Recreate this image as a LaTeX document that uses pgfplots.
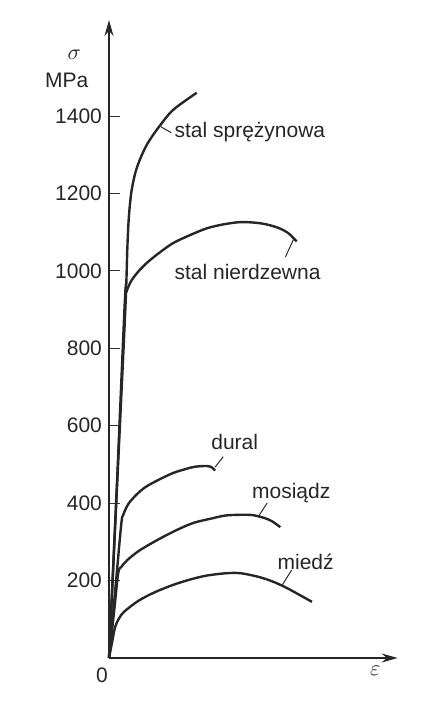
\documentclass[border=0pt]{standalone}
\usepackage{fontspec}
\setmainfont{Liberation Sans}
\usepackage{pgfplots}
\pgfplotsset{compat=1.18}
\usetikzlibrary{arrows.meta}
\tikzset{curve/.style={black!85, line width=1.2pt, smooth, tension=0.5, mark=none}}
\begin{document}
\begin{tikzpicture}
\path[use as bounding box] (-54.5pt,-25.5pt) rectangle (169.5pt,329pt);
\begin{axis}[
  scale only axis, width=141.5pt, height=319pt,
  xmin=0, xmax=283, ymin=0, ymax=1648,
  axis lines=left,
  axis line style={line width=0.75pt, black!85, -{Stealth[length=8pt,width=4.5pt]}},
  xtick=\empty,
  ytick={200,400,...,1400},
  tick align=inside, major tick length=5.5pt,
  tick style={line width=0.5pt, black!80},
  font=\fontsize{10.5}{12}\selectfont,
  yticklabel style={font=\fontsize{10.5}{12}\selectfont, text=black!85},
  /pgf/number format/assume math mode=true,
  /pgf/number format/1000 sep={},
  clip=false,
]
% stal sprezynowa
\addplot[curve] coordinates {(0,0) (8,450) (16,900) (18,1060) (19.5,1140) (22,1205) (26,1255) (31,1292) (38,1330) (49,1372) (63,1416) (86,1460)};
% stal nierdzewna
\addplot[curve] coordinates {(0,0) (8,463) (15.5,920) (17,945) (22,975) (30,1002) (39,1025) (50,1048) (63,1072) (80,1093) (96,1110) (112,1120) (129,1126) (145,1124) (156,1119) (167,1110) (176,1097) (184,1076)};
% dural
\addplot[curve] coordinates {(0,0) (6,172) (12,345) (14,370) (19,398) (27,422) (36,442) (50,462) (63,478) (75,488) (84,494) (96,496) (101,492) (104,484)};
% mosiadz
\addplot[curve] coordinates {(0,0) (5,120) (9,219) (12,235) (18,253) (30,278) (51,310) (70,335) (84,350) (100,360) (114,368) (130,370) (141,369) (152,362) (160,353) (168,338)};
% miedz
\addplot[curve] coordinates {(0,0) (3,40) (6,80) (10,103) (15,120) (29,148) (45,170) (63,189) (80,203) (96,213) (115,219) (129,219) (146,210) (160,198) (175,180) (199,145)};

\draw[line width=0.5pt, black!85] (axis cs:51,1372) -- (axis cs:61,1357);
\node[anchor=west, inner sep=1pt, text=black!85] at (axis cs:62,1359) {stal sprężynowa};
\draw[line width=0.5pt, black!85] (axis cs:181,1082) -- (axis cs:173,1036);
\node[anchor=west, inner sep=1pt, text=black!85] at (axis cs:62,998) {stal nierdzewna};
\draw[line width=0.5pt, black!85] (axis cs:104,493) -- (axis cs:112,520);
\node[anchor=west, inner sep=1pt, text=black!85] at (axis cs:98,558) {dural};
\draw[line width=0.5pt, black!85] (axis cs:146,364) -- (axis cs:155,400);
\node[anchor=west, inner sep=1pt, text=black!85] at (axis cs:138,427) {mosiądz};
\draw[line width=0.5pt, black!85] (axis cs:170,189) -- (axis cs:179,227);
\node[anchor=west, inner sep=1pt, text=black!85] at (axis cs:163,248) {miedź};

\node[text=black!85] at (axis cs:-34,1557) {\fontsize{11}{12}\selectfont$\sigma$};
\node[anchor=east, inner sep=0pt, text=black!85] at (axis cs:-20,1493) {MPa};
\node[text=black!85] at (axis cs:-7,-44) {0};
\node[text=black!85] at (axis cs:261,-32) {\fontsize{11}{12}\selectfont$\varepsilon$};
\end{axis}
\end{tikzpicture}
\end{document}
